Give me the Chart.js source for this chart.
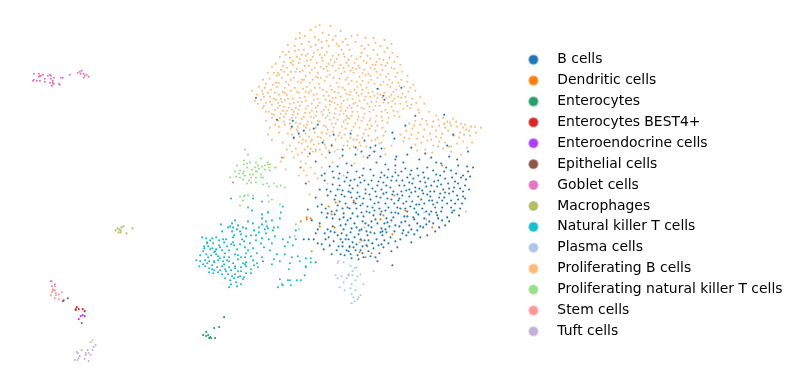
<!DOCTYPE html>
<html>
<head>
<meta charset="utf-8">
<script src="https://cdn.jsdelivr.net/npm/chart.js@4/dist/chart.umd.min.js"></script>
<style>
body { margin: 0; background: #fff; }
canvas { display: block; }
</style>
</head>
<body>
<canvas id="umap" width="798" height="389"></canvas>
<script>
// values, in the picture's own units (axes are hidden)
const categories = ['B cells', 'Dendritic cells', 'Enterocytes', 'Enterocytes BEST4+', 'Enteroendocrine cells', 'Epithelial cells', 'Goblet cells', 'Macrophages', 'Natural killer T cells', 'Plasma cells', 'Proliferating B cells', 'Proliferating natural killer T cells', 'Stem cells', 'Tuft cells'];
const colors = ['#1f77b4', '#ff7f0e', '#279e68', '#d62728', '#aa40fc', '#8c564b', '#e377c2', '#b5bd61', '#17becf', '#aec7e8', '#ffbb78', '#98df8a', '#ff9896', '#c5b0d5'];

const bCells = [[256,98],[402,88],[378,89],[384,96],[385,100],[293,121],[277,120],[292,127],[304,131],[299,134],[314,129],[318,125],[294,138],[323,143],[334,135],[332,146],[351,134],[365,141],[376,146],[395,139],[371,148],[382,149],[393,133],[406,126],[416,116],[445,115],[448,146],[454,135],[412,148],[397,157],[450,157],[469,152],
[310,154],[316,162],[330,153],[343,156],[356,155],[362,152],[375,152],[381,157],[396,160],[404,163],[420,160],[432,158],[442,164],[468,167],[474,168],
[325,174],[322,176],[306,184],[320,190],[334,178],[340,174],[348,173],[352,166],[357,172],[363,176],[371,170],[377,163],[382,173],[388,178],[396,166],[402,172],[412,171],[419,176],[428,168],[437,175],[445,172],[452,171],[459,166],[464,176],[471,177],
[333,185],[338,190],[345,182],[350,186],[355,180],[361,183],[366,190],[372,181],[378,186],[384,183],[391,188],[397,181],[402,192],[408,178],[413,184],[420,189],[426,183],[432,186],[439,181],[444,190],[449,184],[456,182],[461,189],[466,186],[470,190],
[328,196],[335,200],[342,195],[346,204],[352,198],[358,193],[364,199],[370,195],[375,204],[381,198],[387,193],[392,200],[398,195],[404,204],[410,197],[416,192],[422,200],[428,195],[434,205],[440,198],[446,193],[452,201],[458,196],[463,204],[452,208],[466,199],
[318,207],[326,209],[332,212],[338,206],[344,214],[350,209],[356,204],[362,213],[368,207],[374,216],[380,209],[386,204],[392,213],[398,208],[405,217],[411,207],[417,213],[423,209],[430,215],[436,208],[442,212],[448,218],[455,211],[460,216],[446,226],[440,228],
[312,221],[320,224],[327,218],[333,227],[340,220],[346,225],[351,219],[357,228],[363,222],[369,226],[376,220],[382,229],[388,223],[394,218],[400,227],[406,222],[412,230],[418,224],[424,228],[430,222],[436,232],[428,236],[421,238],
[309,240],[316,234],[322,245],[329,238],[335,233],[341,240],[347,236],[353,243],[359,235],[365,241],[371,233],[377,240],[383,236],[389,244],[395,232],[401,240],[407,236],[412,243],[398,248],[392,252],[384,248],
[324,250],[330,246],[337,251],[343,247],[349,252],[354,248],[361,251],[367,246],[374,249],[380,254],[345,256],[352,259],[358,256],[364,258],[376,258],[378,262],[350,247],[346,240],[361,240],[368,236],[385,224],[335,215],[343,209],[357,199],[373,189],[393,177],[405,186],[425,178],[443,201],[414,218],[386,211],[364,169],[349,192],[339,179],[338,167],[352,229],[400,199],[417,205],[430,201],[455,188],[439,219],[406,209],[372,222],[361,206],[328,230],[342,234],[386,230],[410,190],[381,178],[368,158],[347,164],[396,173],
[340,186],[343,191],[347,178],[351,181],[353,189],[358,186],[360,178],[365,181],[369,185],[374,176],[376,192],[379,182],[382,190],[385,176],[387,186],[389,170],[392,181],[394,192],[399,176],[400,186],[403,181],[406,169],[407,191],[410,183],[411,175],[414,179],[416,188],[418,169],[421,182],[423,191],[424,173],[427,187],[429,179],[431,192],[434,171],[435,182],[438,187],[441,176],[442,185],[446,179],[447,168],[450,189],[453,178],[454,192],[457,174],[459,184],[462,178],[464,192],[467,180],[469,172],
[331,192],[336,196],[340,202],[345,197],[348,208],[351,193],[354,203],[357,209],[360,197],[363,204],[366,194],[367,212],[371,200],[373,208],[377,197],[379,203],[382,212],[384,194],[388,199],[389,208],[393,195],[395,204],[396,213],[399,201],[401,209],[403,196],[407,202],[408,212],[412,193],[413,202],[415,209],[419,197],[420,205],[424,194],[425,204],[427,212],[431,197],[433,201],[435,192],[437,213],[438,203],[441,194],[443,208],[445,198],[448,204],[450,194],[453,213],[456,204],[459,200],[461,209],[464,197],
[322,213],[328,214],[333,219],[337,211],[341,226],[344,218],[348,221],[353,214],[355,224],[358,217],[360,231],[364,217],[366,224],[370,213],[372,228],[375,211],[378,224],[381,215],[383,232],[387,219],[390,227],[392,221],[396,226],[399,214],[402,223],[404,231],[408,217],[410,226],[415,220],[419,215],[421,227],[425,219],[427,225],[432,212],[434,224],[438,216],[443,221],[450,222],
[318,230],[325,234],[331,232],[334,242],[338,236],[343,243],[344,230],[349,240],[351,233],[355,238],[357,245],[362,230],[363,247],[367,232],[369,241],[373,244],[375,234],[379,246],[381,233],[385,241],[387,233],[391,238],[396,242],[403,234],[409,233],[415,235],[418,231],
[326,240],[332,255],[339,247],[341,255],[347,251],[351,255],[356,251],[359,260],[363,254],[369,252],[371,257],[382,245],[327,190],[316,198],[322,205],[308,210],[314,240],[318,244],[304,240],[343,150],[356,148],[370,156],[386,165],[408,155],[426,154],[437,163],[458,160],[330,167],[333,172],[325,181]];
const dendriticCells = [[311,219],[307,220],[307,218],[301,222],[320,227],[335,228],[336,203],[329,207],[332,215],[354,201],[381,220],[384,216],[406,211],[433,228],[393,235],[362,241],[368,247],[350,248],[366,258],[360,253],[372,254],[312,252],[443,166],[301,168],[395,196],[282,158]];
const enterocytes = [[224,318],[219,328],[214,329],[206,333],[203,336],[206,337],[208,336],[210,338],[209,339],[211,339],[215,339],[316,263]];
const enterocytesBest4 = [[76,308],[78,310],[82,310],[84,312]];
const enteroendocrine = [[80,317],[82,316],[84,317],[78,320],[81,324]];
const epithelial = [[67,299],[63,301],[62,302],[75,310],[75,311],[393,266]];
const gobletCells = [[33,74],[38,74],[39,76],[42,75],[38,77],[40,76],[33,80],[32,81],[36,81],[39,81],[44,79],[44,82],[47,76],[49,75],[50,76],[50,79],[53,78],[52,81],[52,83],[49,83],[53,84],[52,84],[51,86],[60,78],[62,78],[58,84],[59,85],[69,75],[77,73],[79,72],[81,71],[80,74],[83,74],[84,76],[83,78],[86,75],[88,77],[50,282],[54,285],[51,287],[233,183]];
const macrophages = [[115,231],[117,229],[119,230],[121,228],[123,227],[120,231],[118,233],[120,233],[126,234],[132,229]];
const nkCells = [[231,199],[253,199],[262,202],[248,208],[283,207],[281,213],[268,213],[280,219],[272,221],[262,215],[252,211],[278,228],[273,231],[262,219],[248,222],[235,221],[232,224],[221,225],[228,228],
[243,228],[253,224],[259,228],[267,227],[254,231],[241,235],[232,232],[230,227],[262,225],[265,230],[268,229],[242,240],[234,236],[222,232],[223,240],[233,243],[246,237],[259,233],[266,234],[274,228],[283,240],[290,238],[296,231],
[202,238],[206,239],[210,241],[212,239],[216,238],[207,243],[204,247],[213,244],[219,241],[224,243],[226,240],[240,245],[250,244],[256,241],[262,239],[275,237],[288,243],[293,246],[296,240],[285,247],[272,244],[264,248],[253,249],[245,248],[237,250],[227,247],
[204,249],[210,250],[215,252],[222,251],[206,255],[211,256],[218,257],[225,254],[229,258],[235,255],[241,258],[246,254],[251,257],[257,254],[262,258],[270,251],[277,255],[285,255],[292,258],[298,257],[274,260],
[196,261],[200,256],[200,262],[205,261],[209,262],[214,263],[218,261],[223,262],[229,262],[233,264],[238,260],[246,263],[253,261],[257,264],[263,262],[280,262],[290,264],[300,262],[306,268],
[199,267],[205,267],[209,269],[212,270],[217,268],[222,267],[225,270],[229,268],[235,267],[241,268],[246,267],[251,270],[258,268],[272,265],[289,270],[306,267],[311,263],[306,259],[311,259],
[209,273],[213,274],[218,273],[222,275],[226,272],[231,271],[235,275],[241,272],[246,274],[251,274],[234,279],[238,278],[243,280],[230,281],[236,283],[241,285],[244,278],[225,279],[280,280],[282,285],[278,288],[290,281],[291,286],[297,281],[301,281],[288,281],[237,287],[231,285],[229,288],[283,286],[305,276],[214,262],[219,246],[238,226],[207,244],[216,250],[245,265],[234,246],[245,258],[214,253],[224,258],[229,251],[233,238],
[208,247],[212,249],[203,252],[208,258],[216,255],[220,248],[220,259],[224,265],[227,261],[212,266],[207,264],[203,265],[214,271],[220,271],[228,275],[232,277],[238,272],[243,264],[238,256],[231,245],[240,232],[246,229],[251,236],[256,236],[261,244],[266,222],[269,240],[233,228],[237,230],[244,242],[248,251],[254,266],[240,277],[235,269]];
const plasmaCells = [[339,262],[338,264],[344,263],[351,267],[355,269],[357,268],[353,272],[349,275],[342,277],[347,279],[353,276],[356,281],[358,277],[361,275],[364,285],[338,279],[344,283],[340,288],[352,285],[351,289],[356,291],[352,295],[354,298],[358,300],[355,302],[352,304],[359,298],[361,296],[374,272],[336,276],[345,291],[349,276],[344,176],[355,202],[365,228],[427,220],[453,211],[467,212],[372,244],[330,247],[295,237],[360,243],[384,195],[340,190],[396,170],[425,213]];
const proliferatingB = [[316,27],[320,25],[331,26],[329,35],[323,33],[311,30],[305,36],[300,33],[315,37],[319,40],[327,41],[341,31],[346,39],[352,36],[358,35],[366,38],[374,38],[385,40],[376,43],[296,39],[302,44],[309,42],[295,46],[288,45],[300,38],[336,36],[348,45],[356,42],[362,46],[369,45],[381,46],[392,44],[385,52],[388,48],[289,52],[295,51],[304,50],[311,47],[316,45],[322,48],[329,46],[337,44],[342,50],[350,50],[374,50],[362,53],[368,56],[378,55],[393,53],
[283,52],[280,57],[276,64],[272,67],[284,62],[290,58],[297,57],[302,55],[308,54],[314,53],[320,55],[327,52],[333,56],[339,55],[345,57],[352,56],[357,59],[364,61],[371,59],[377,62],[384,60],[390,58],[395,62],[386,66],[398,57],
[268,73],[274,73],[281,70],[287,68],[293,65],[299,63],[305,66],[311,60],[317,63],[323,61],[329,64],[335,62],[341,65],[347,63],[353,68],[359,66],[365,70],[371,68],[377,72],[383,70],[389,74],[395,69],[401,65],[403,72],[408,76],
[263,80],[270,79],[276,83],[282,78],[288,75],[294,78],[300,72],[306,76],[312,70],[318,73],[324,69],[330,75],[336,71],[342,74],[348,78],[354,73],[360,77],[366,75],[372,80],[378,78],[384,82],[390,80],[396,77],[402,80],[408,82],[414,85],
[259,87],[265,88],[271,90],[277,87],[283,92],[289,85],[295,88],[301,83],[307,87],[313,80],[319,84],[325,81],[331,86],[337,83],[343,88],[349,84],[355,90],[361,85],[367,88],[373,92],[379,89],[385,93],[391,87],[397,90],[403,94],[409,92],[416,91],[421,97],
[252,91],[257,95],[263,94],[270,97],[275,93],[281,99],[287,95],[293,99],[299,93],[305,97],[311,91],[317,94],[323,90],[329,96],[335,92],[341,97],[347,94],[353,99],[359,96],[365,100],[371,97],[377,102],[383,98],[389,103],[395,99],[401,104],[407,102],[413,99],[425,104],
[255,101],[261,100],[266,103],[272,105],[278,103],[284,107],[290,104],[296,108],[302,102],[308,106],[314,100],[320,103],[326,107],[332,102],[338,105],[344,101],[350,106],[356,103],[362,108],[368,104],[374,110],[380,106],[386,110],[392,107],[398,112],[404,109],[411,108],[419,110],
[263,108],[269,112],[275,110],[281,114],[287,111],[293,115],[299,110],[305,113],[311,117],[317,112],[323,115],[329,110],[335,114],[341,111],[347,116],[353,112],[359,117],[365,114],[371,119],[377,116],[383,121],[389,118],[395,116],[420,113],[430,112],[437,116],[444,118],[448,122],[454,119],[462,124],
[272,118],[278,121],[284,117],[290,120],[296,123],[302,119],[308,122],[314,118],[320,122],[326,118],[332,124],[338,120],[344,122],[350,119],[356,124],[362,121],[368,125],[410,124],[416,121],[423,119],[428,125],[434,122],[440,126],[446,128],[452,126],[458,127],[466,125],[472,127],[476,127],[482,128],
[270,128],[285,125],[291,129],[298,127],[304,126],[310,130],[316,128],[322,133],[328,130],[334,128],[340,133],[346,129],[352,131],[358,136],[364,134],[370,129],[376,131],[384,136],[401,135],[407,131],[413,129],[419,133],[425,130],[431,134],[437,131],[443,134],[449,131],[455,136],[461,133],[467,130],[471,136],[477,133],
[288,134],[294,139],[300,137],[306,134],[312,140],[318,137],[324,141],[330,136],[336,140],[342,138],[348,142],[354,140],[360,143],[372,141],[378,138],[404,142],[410,139],[416,145],[422,143],[428,141],[434,146],[440,142],[446,143],[452,147],[458,144],[464,142],[468,148],[460,138],[473,143],
[283,143],[290,146],[296,149],[302,144],[308,147],[314,145],[320,150],[326,148],[332,145],[338,150],[344,146],[350,149],[358,150],[367,147],[374,152],[380,144],[385,149],[392,146],[418,151],[426,150],[433,153],[444,149],[452,152],[462,155],[294,158],[302,153],[308,157],[313,152],[301,162],[306,164],[300,168],[304,171],[311,168],[315,174],[307,176],[322,168],[326,158],[340,159],[299,176],[318,179],[328,184],[333,163],[355,164],[364,157],[386,155],[310,195],[309,182],[286,170],[276,168],[268,165],[281,162],[284,158],[297,130],[279,133],[268,135],[275,125],[266,121],[326,100],[336,98],[348,108],[316,108],[306,92],[345,72],[318,78],[296,72],[325,55],[340,79],[357,82],[371,76],[392,95],[286,82],[298,102],[264,97],[280,106],[358,112],[378,94],[310,73],[349,60],[332,90],[370,112],[302,80],[285,100],[292,110],[326,127],[344,114],[362,94],[315,88],[400,86],[376,65],[328,71],[350,95],[339,46],[307,125],[277,76],[92,341],
[286,55],[293,61],[300,59],[307,61],[313,57],[322,58],[331,60],[337,59],[344,54],[349,66],[355,63],[361,57],[367,63],[373,65],[380,59],[382,65],[388,63],[392,68],[398,73],[279,75],[284,72],[291,72],[297,69],[303,71],[309,66],[315,68],[321,67],[327,67],[333,66],[339,69],[344,68],[351,71],[357,69],[363,73],[369,74],[375,69],[381,75],[387,77],[393,83],[399,83],[405,87],[411,88],
[266,84],[273,85],[279,83],[285,88],[291,80],[298,82],[304,80],[310,83],[316,77],[321,78],[327,77],[334,78],[339,87],[346,80],[352,81],[358,87],[363,81],[369,83],[375,84],[381,85],[388,85],[394,92],[406,97],[412,105],[417,103],[262,91],[268,93],[274,99],[279,95],[285,93],[291,91],[297,92],[303,89],[309,93],[314,95],[320,88],[327,92],[333,98],[339,93],[345,90],[351,92],[357,93],[363,90],[369,93],[375,96],[381,95],[387,98],[393,101],[399,97],
[258,104],[264,106],[270,102],[276,100],[282,102],[288,99],[294,103],[300,98],[306,101],[312,104],[318,99],[324,96],[330,101],[336,109],[342,104],[348,100],[354,104],[360,101],[366,97],[372,102],[378,98],[384,103],[390,97],[396,104],[402,98],[408,106],[266,112],[272,114],[278,108],[283,111],[289,108],[294,112],[300,106],[306,109],[312,111],[318,106],[324,110],[330,105],[335,103],[341,107],[346,111],[352,108],[358,106],[364,109],[370,107],[376,106],[382,112],[388,113],[394,111],[400,117],
[274,115],[280,118],[286,114],[292,118],[298,114],[304,117],[310,113],[316,116],[322,112],[328,116],[334,118],[340,115],[346,120],[352,116],[358,120],[364,118],[370,121],[376,122],[382,117],[388,123],[279,127],[284,122],[290,124],[296,118],[300,124],[306,128],[312,123],[318,121],[324,126],[330,120],[336,124],[342,127],[348,124],[354,127],[360,128],[366,130],[372,126],[378,126],[383,128],[415,126],[421,125],[427,121],[433,127],[439,120],[445,124],[451,123],[457,122],[464,128],[470,131],[437,137],[432,140],[442,138],[424,137],[412,135],[418,139],[405,138],
[292,135],[298,132],[303,140],[309,137],[315,133],[321,138],[327,134],[333,132],[339,136],[345,135],[351,138],[357,140],[363,138],[369,136],[376,140],[382,143],[386,132],[287,150],[292,152],[298,155],[305,150],[311,149],[316,152],[322,155],[329,151],[335,152],[348,146],[354,147],[361,146],[311,142],[319,144],[325,145],[306,141],[299,143],[360,68],[365,49],[343,42],[333,40],[322,42],[318,50],[306,56],[299,50],[291,63],[283,66],[278,73]];
const proliferatingNk = [[248,155],[261,159],[256,163],[268,163],[244,161],[237,166],[244,165],[247,164],[250,163],[255,168],[258,166],[265,166],[270,165],[265,170],[269,168],[235,172],[240,171],[244,172],[252,170],[257,172],[236,177],[243,174],[250,175],[256,172],[261,175],[270,171],[275,168],[263,178],[230,178],[240,178],[245,176],[251,178],[261,178],[247,184],[251,183],[256,183],[263,185],[267,184],[274,184],[281,186],[277,187],[269,187],[285,188],[243,201],[245,196],[240,197],[244,197],[240,206],[248,196],[253,196],[268,196],[269,202],[272,200],[268,212],[296,225],[299,230],[280,205],[316,150],[450,147],[439,147],[465,135],[330,113],[348,118],[272,140],[245,150],[239,174],[247,168],[253,175],[259,169],[262,167],[243,180],[256,178],[249,181]];
const stemCells = [[51,282],[54,287],[52,290],[53,291],[52,291],[54,291],[51,293],[55,294],[55,296],[58,295],[61,293],[50,296],[54,299],[58,300]];
const tuftCells = [[90,343],[95,346],[93,348],[92,351],[87,351],[76,353],[77,354],[81,351],[85,354],[88,354],[90,356],[79,357],[85,356],[78,359],[74,361],[77,361],[84,360],[88,362]];

const seriesValues = [bCells, dendriticCells, enterocytes, enterocytesBest4, enteroendocrine, epithelial, gobletCells, macrophages, nkCells, plasmaCells, proliferatingB, proliferatingNk, stemCells, tuftCells];

// round legend marker, the built in one turns into an ellipse with pointStyleWidth
function legendDot(color) {
    const c = document.createElement('canvas');
    c.width = 12;
    c.height = 12;
    const g = c.getContext('2d');
    g.fillStyle = color;
    g.beginPath();
    g.arc(6, 6, 4.8, 0, Math.PI * 2);
    g.fill();
    return c;
}

new Chart(document.getElementById('umap'), {
    type: 'scatter',
    data: {
        datasets: categories.map((name, i) => ({
            label: name,
            data: seriesValues[i].map(p => ({ x: p[0], y: p[1] })),
            backgroundColor: colors[i],
            borderWidth: 0,
            pointRadius: 1.05,
            pointHoverRadius: 1.05
        }))
    },
    options: {
        responsive: false,
        animation: false,
        events: [],
        layout: { padding: { right: 5.5, top: 2 } },
        scales: {
            x: { type: 'linear', display: false, min: 0, max: 510.5 },
            y: { type: 'linear', display: false, min: 2, max: 389, reverse: true }
        },
        plugins: {
            tooltip: { enabled: false },
            legend: {
                position: 'right',
                labels: {
                    color: '#000',
                    font: { family: 'DejaVu Sans', size: 13.9 },
                    usePointStyle: true,
                    pointStyleWidth: 34,
                    boxHeight: 12,
                    padding: 7,
                    generateLabels: chart => chart.data.datasets.map((d, i) => ({
                        text: d.label,
                        fontColor: '#000',
                        pointStyle: legendDot(colors[i]),
                        lineWidth: 0,
                        datasetIndex: i
                    }))
                }
            }
        }
    }
});
</script>
</body>
</html>
